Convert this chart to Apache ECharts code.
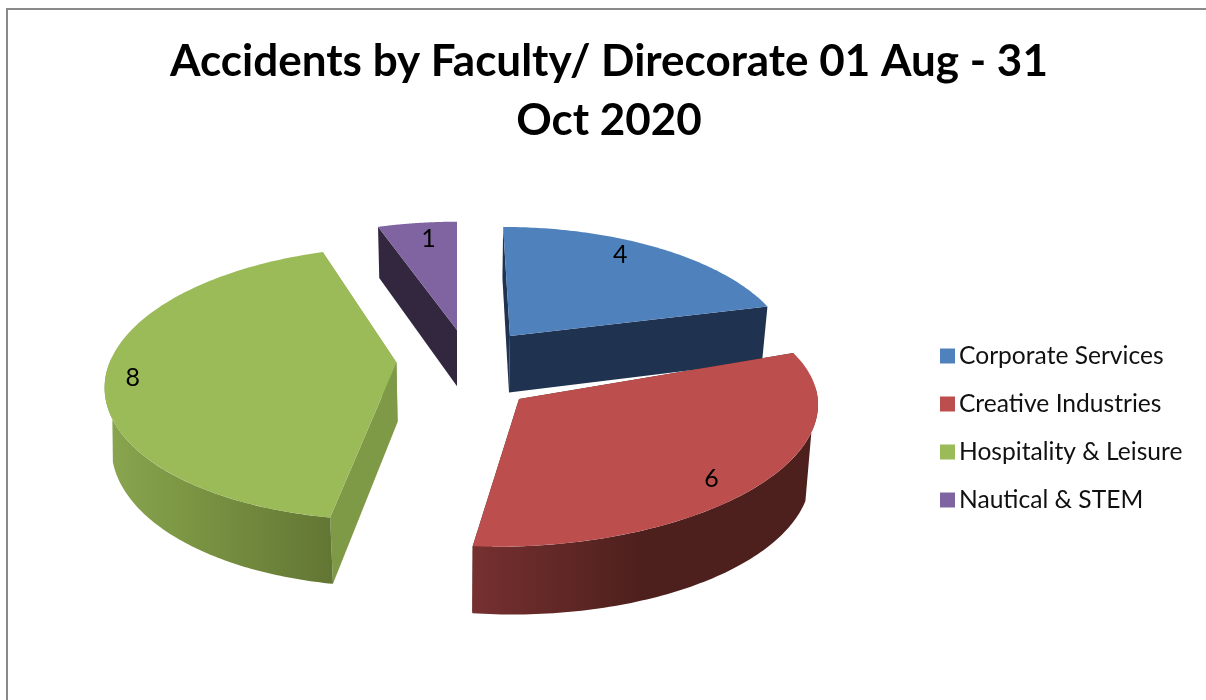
<!DOCTYPE html>
<html><head><meta charset="utf-8">
<style>html,body{margin:0;padding:0;background:#fff;overflow:hidden}#c{width:1206px;height:700px}</style>
<script src="https://cdn.jsdelivr.net/npm/echarts@6/dist/echarts.min.js"></script>
</head><body><div id="c"></div>
<script>
// ---- data ----
const categories = ['Corporate Services', 'Creative Industries', 'Hospitality & Leisure', 'Nautical & STEM'];
const values = [4, 6, 8, 1];
const chartTitle = 'Accidents by Faculty/ Direcorate 01 Aug - 31\nOct 2020';

// ---- styling ----
const topColors = ['#4f81bd', '#bc4f4d', '#9bbb59', '#8064a2'];
const cutColors = ['#1f3350', '#4e201d', '#7f9a46', '#33273f'];
const wallStops = [
  [[0, '#1f3350'], [1, '#1f3350']],
  [[0, '#763030'], [0.48, '#4e201d'], [1, '#4e201d']],
  [[0, '#8aa650'], [0.35, '#7c9644'], [1, '#627633']],
  [[0, '#33273f'], [1, '#33273f']]
];
// explosion of every slice in the pie's plane, per-slice view tweaks, and paint order
const explodeU = [55, 60, -61, 0];
const explodeV = [73, -62, 14, 87];
const sliceRadius = [288, 285, 289, 290];
const depthScale = [1, 0.885, 1, 1];
const sliceRoll = [0, 0.058, 0, 0];
const sliceHeight = [67, 70, 69, 67];
const wallFlare = [0, 0.03, 0, 0];
const paintOrder = [2, 4, 3, 1];
// where each value label sits inside its slice
const labelSweep = [0.43, 0.55, 0.485, 0.577];
const labelRadius = [0.855, 0.865, 0.907, 0.825];

// ---- projection of the tilted pie ----
const VIEW = { cx: 457, cy: 369, sinT: 0.469, cosT: 0.883, f: 1660 };
const DEG = Math.PI / 180;
function project(u, v, h) {
  const screenV = v * VIEW.sinT + h * VIEW.cosT;
  const depth = v * VIEW.cosT - h * VIEW.sinT;
  const s = VIEW.f / (VIEW.f + depth);
  return [VIEW.cx + s * u, VIEW.cy - s * screenV];
}
const total = values.reduce((a, b) => a + b, 0);
function sliceRange(i) {
  let before = 0;
  for (let k = 0; k < i; k++) before += values[k];
  return [before / total * 2 * Math.PI, (before + values[i]) / total * 2 * Math.PI];
}
function point(i, theta, rad, h) {
  const du = rad * Math.sin(theta), dv = rad * Math.cos(theta) * depthScale[i];
  const p = project(explodeU[i] + du, explodeV[i] + dv, h);
  return [p[0], p[1] - sliceRoll[i] * du + (h < 0 ? wallFlare[i] * du : 0)];
}
function arc(i, a, b, h, steps) {
  const out = [];
  for (let k = 0; k <= steps; k++) out.push(point(i, a + (b - a) * k / steps, sliceRadius[i], h));
  return out;
}
function renderSlice(i) {
  return function (params, api) {
    const [a, b] = sliceRange(i);
    const R = sliceRadius[i], H = -sliceHeight[i];   // top face lies at height 0, the underside at -h
    const children = [];
    const poly = (points, fill, z2) => children.push({
      type: 'polygon', shape: { points }, z2,
      style: { fill, stroke: null }, silent: true
    });
    // radial cut faces
    [a, b].forEach((t, n) => {
      poly([point(i, t, 0, 0), point(i, t, R, 0), point(i, t, R, H), point(i, t, 0, H)], cutColors[i], 1 + n);
    });
    // outer curved wall: the part facing the viewer, closed by straight silhouette edges
    const upFrom = Math.max(a, 92 * DEG), upTo = Math.min(b, 272 * DEG);
    const lowFrom = Math.max(a, 110 * DEG), lowTo = Math.min(b, 254 * DEG);
    if (upTo > upFrom && lowTo > lowFrom) {
      const upper = arc(i, upFrom, upTo, 0, 80);
      const lower = arc(i, lowFrom, lowTo, H, 80).reverse();
      poly(upper.concat(lower), new echarts.graphic.LinearGradient(0, 0, 1, 0,
        wallStops[i].map(s => ({ offset: s[0], color: s[1] }))), 3);
    }
    // top face
    poly([point(i, a, 0, 0)].concat(arc(i, a, b, 0, 100)), topColors[i], 4);
    // value label
    const lt = a + (b - a) * labelSweep[i];
    const lp = point(i, lt, R * labelRadius[i], 0);
    children.push({
      type: 'text', z2: 5, silent: true, x: lp[0], y: lp[1],
      style: { text: String(api.value(0)), fill: '#000', font: '25px Lato', align: 'center', verticalAlign: 'middle' }
    });
    return { type: 'group', children };
  };
}

const chart = echarts.init(document.getElementById('c'), null, { renderer: 'canvas' });
chart.setOption({
  animation: false,
  backgroundColor: '#fff',
  title: {
    text: chartTitle, left: 604, top: 27, textAlign: 'center',
    textStyle: { fontFamily: 'Lato', fontWeight: 'bold', fontSize: 44, lineHeight: 59, color: '#000' }
  },
  legend: {
    data: categories, orient: 'vertical', left: 935, top: 336, icon: 'rect',
    itemWidth: 15, itemHeight: 15, itemGap: 18, selectedMode: false,
    textStyle: { fontFamily: 'Lato', fontSize: 24.6, color: '#111', lineHeight: 30, padding: [0, 0, 0, -1] }
  },
  graphic: [{
    type: 'rect', silent: true, z: -1,
    shape: { x: 7, y: 9, width: 1400, height: 900 },
    style: { fill: 'none', stroke: '#8a8a8a', lineWidth: 2 }
  }],
  series: categories.map((name, i) => ({
    type: 'custom', name, coordinateSystem: 'none', z: paintOrder[i] + 2,
    itemStyle: { color: topColors[i] },
    data: [values[i]],
    renderItem: renderSlice(i)
  }))
});
</script></body></html>
